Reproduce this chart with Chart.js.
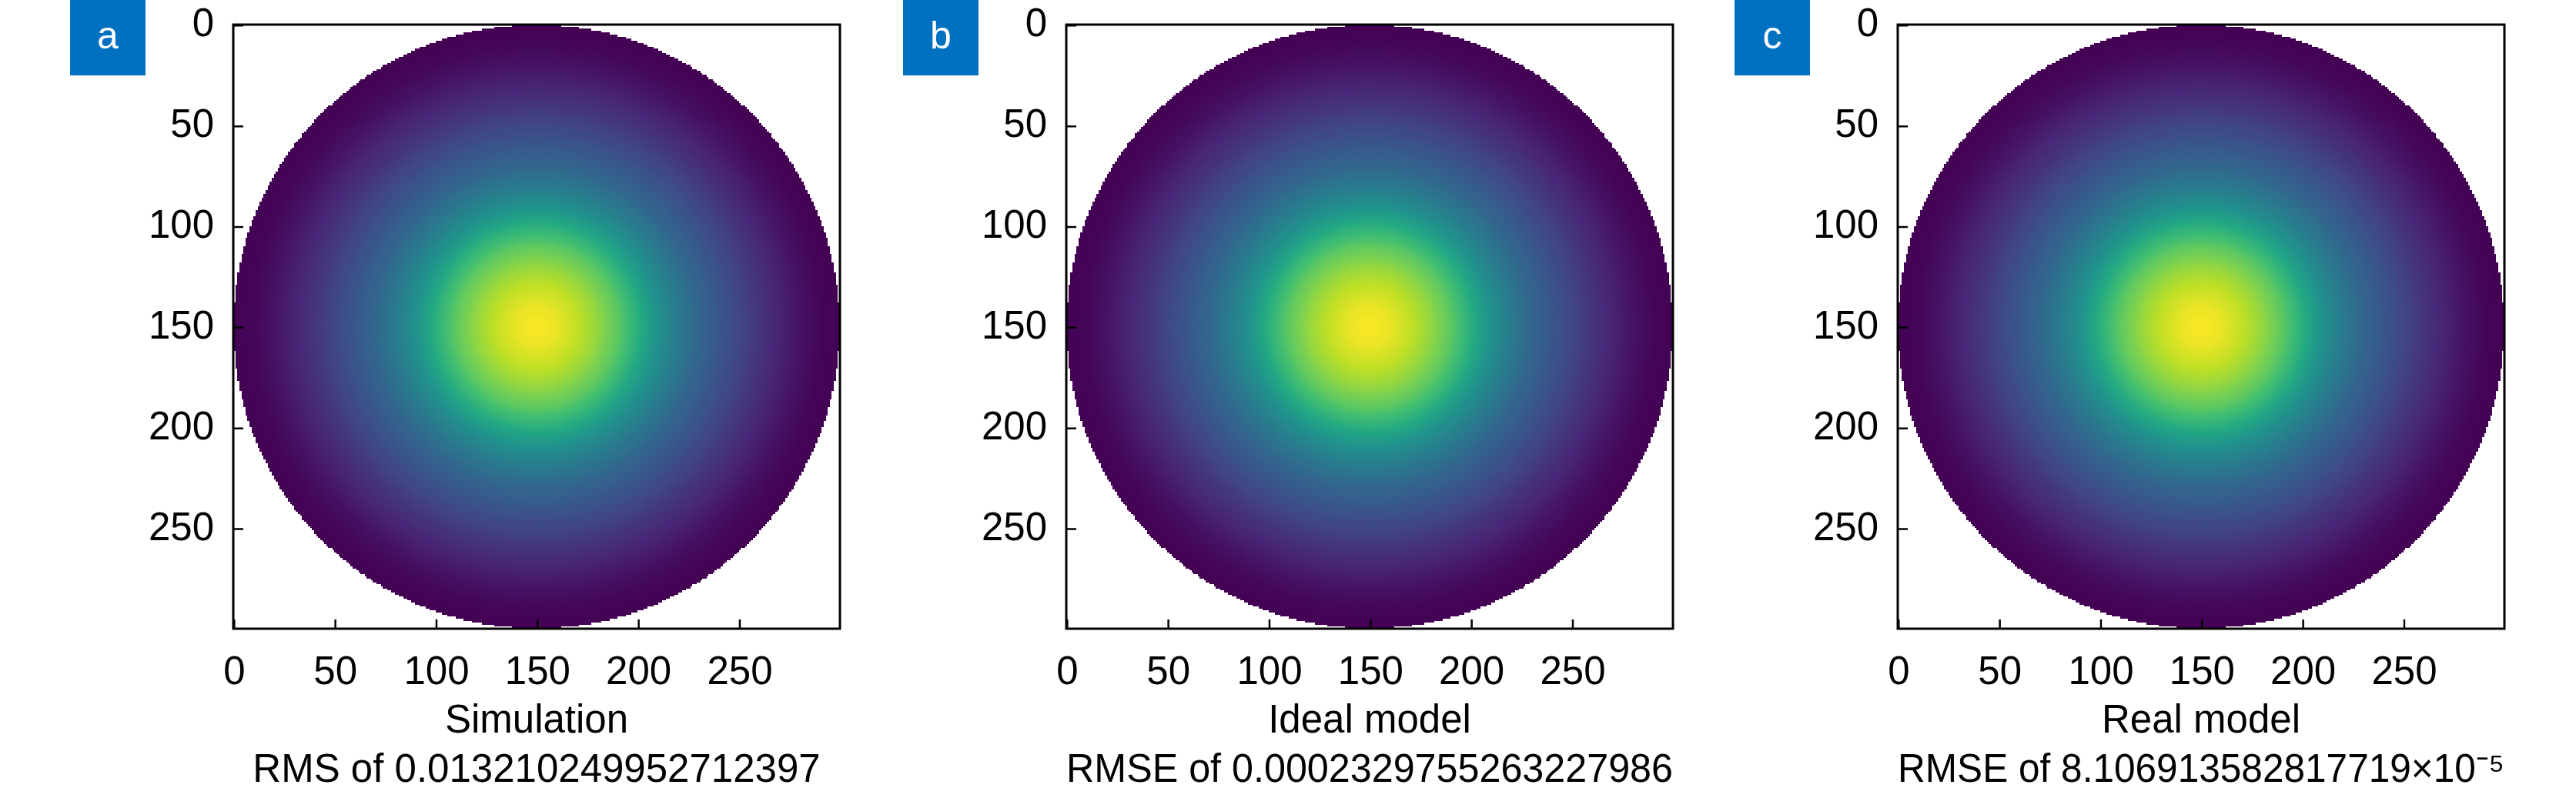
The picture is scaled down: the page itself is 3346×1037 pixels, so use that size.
<!DOCTYPE html>
<html>
<head>
<meta charset="utf-8">
<script src="https://cdn.jsdelivr.net/npm/chart.js@4.4.1/dist/chart.umd.min.js"></script>
<style>
  html, body { margin: 0; padding: 0; background: #fff; width: 3346px; height: 1037px; overflow: hidden; }
  .panel { position: absolute; top: 0; width: 1100px; height: 1037px; }
</style>
</head>
<body>
<div class="panel" style="left:0px"><canvas id="panel0" width="1100" height="1037"></canvas></div>
<div class="panel" style="left:1082px"><canvas id="panel1" width="1100" height="1037"></canvas></div>
<div class="panel" style="left:2162px"><canvas id="panel2" width="1100" height="1037"></canvas></div>
<script>
// map is a 300 x 300 grid, the disc fills it
const gridSize = 300;
const xTicks = [0, 50, 100, 150, 200, 250];
const yTicks = [0, 50, 100, 150, 200, 250];

// colour level (0..1 of the colormap) read along a radius from the centre
const radii            = [0,   10,   20,   30,   40,   50,   60,   70,   80,   90,   100,  110,  120,  130,  140,   150];
const levelsSimulation = [1.0, 0.97, 0.91, 0.84, 0.75, 0.63, 0.50, 0.41, 0.33, 0.27, 0.21, 0.15, 0.10, 0.05, 0.015, 0.0];
const levelsIdeal      = [1.0, 0.97, 0.91, 0.84, 0.75, 0.63, 0.50, 0.41, 0.33, 0.27, 0.21, 0.15, 0.10, 0.05, 0.015, 0.0];
const levelsReal       = [1.0, 0.97, 0.91, 0.84, 0.75, 0.63, 0.50, 0.41, 0.33, 0.27, 0.21, 0.15, 0.10, 0.05, 0.015, 0.0];

const panelLetters = ['a', 'b', 'c'];
const panelTitles = ['Simulation', 'Ideal model', 'Real model'];
const panelErrors = [
  'RMS of 0.013210249952712397',
  'RMSE of 0.0002329755263227986',
  'RMSE of 8.106913582817719\u00d710\u207b\u2075'
];
const panelLevels = [levelsSimulation, levelsIdeal, levelsReal];

// viridis, 11 stops
const viridis = ['#440154', '#482475', '#414487', '#355f8d', '#2a788e', '#21918c',
                 '#22a884', '#44bf70', '#7ad151', '#bddf26', '#fde725'];

const FONT = "'Liberation Sans', Arial, sans-serif";

function hexToRgb(h) {
  return [parseInt(h.slice(1, 3), 16), parseInt(h.slice(3, 5), 16), parseInt(h.slice(5, 7), 16)];
}
const viridisRgb = viridis.map(hexToRgb);

function colourFor(t) {
  t = Math.min(1, Math.max(0, t));
  const pos = t * (viridisRgb.length - 1);
  const k = Math.min(Math.floor(pos), viridisRgb.length - 2);
  const f = pos - k;
  const a = viridisRgb[k], b = viridisRgb[k + 1];
  return 'rgb(' + [0, 1, 2].map(c => Math.round(a[c] + (b[c] - a[c]) * f)).join(',') + ')';
}

function levelAt(levels, r) {
  for (let k = 0; k < radii.length - 1; k++) {
    if (r <= radii[k + 1]) {
      const f = (r - radii[k]) / (radii[k + 1] - radii[k]);
      return levels[k] + (levels[k + 1] - levels[k]) * f;
    }
  }
  return null;
}

function buildCells(levels) {
  const c = (gridSize - 1) / 2;
  const rows = [];
  for (let j = 0; j < gridSize; j++) {
    const row = [];
    for (let i = 0; i < gridSize; i++) {
      const v = levelAt(levels, Math.hypot(i - c, j - c));
      row.push(v === null ? null : colourFor(v));
    }
    rows.push(row);
  }
  return rows;
}

const heatmapPlugin = {
  id: 'heatmap',
  beforeDatasetsDraw(chart, args, opts) {
    const { ctx } = chart;
    const x = chart.scales.x, y = chart.scales.y;
    const xs = [], ys = [];
    for (let i = 0; i <= gridSize; i++) {
      xs.push(Math.round(x.getPixelForValue(i - 0.5)));
      ys.push(Math.round(y.getPixelForValue(i - 0.5)));
    }
    ctx.save();
    opts.cells.forEach((row, j) => {
      row.forEach((col, i) => {
        if (!col) return;
        ctx.fillStyle = col;
        ctx.fillRect(xs[i], ys[j], xs[i + 1] - xs[i], ys[j + 1] - ys[j]);
      });
    });
    ctx.restore();
  },
  afterDatasetsDraw(chart) {
    const { ctx, chartArea: a } = chart;
    const x = chart.scales.x, y = chart.scales.y;
    ctx.save();
    ctx.strokeStyle = '#000';
    ctx.lineWidth = 3;
    ctx.strokeRect(a.left, a.top, a.right - a.left, a.bottom - a.top);
    ctx.lineWidth = 2.5;
    ctx.beginPath();
    xTicks.forEach(v => {
      const px = x.getPixelForValue(v);
      ctx.moveTo(px, a.bottom);
      ctx.lineTo(px, a.bottom - 12);
    });
    yTicks.forEach(v => {
      const py = y.getPixelForValue(v);
      ctx.moveTo(a.left, py);
      ctx.lineTo(a.left + 13, py);
    });
    ctx.stroke();
    ctx.restore();
  },
  afterDraw(chart, args, opts) {
    const { ctx } = chart;
    ctx.save();
    ctx.fillStyle = '#0070c0';
    ctx.fillRect(91, 0, 98, 98);
    ctx.fillStyle = '#fff';
    ctx.font = '50px ' + FONT;
    ctx.textAlign = 'center';
    ctx.textBaseline = 'alphabetic';
    ctx.fillText(opts.letter, 140, 63);
    ctx.restore();
  }
};

panelLetters.forEach((letter, p) => {
  const ctx = document.getElementById('panel' + p).getContext('2d');
  new Chart(ctx, {
    type: 'scatter',
    data: { datasets: [] },
    plugins: [heatmapPlugin],
    options: {
      responsive: false,
      devicePixelRatio: 1,
      animation: false,
      layout: { padding: { top: 32, right: 9, left: 0, bottom: 0 } },
      plugins: {
        legend: { display: false },
        tooltip: { enabled: false },
        heatmap: { cells: buildCells(panelLevels[p]), letter: letter }
      },
      scales: {
        x: {
          type: 'linear',
          min: -0.5,
          max: gridSize - 0.5,
          afterBuildTicks: scale => { scale.ticks = xTicks.map(v => ({ value: v })); },
          afterFit: scale => { scale.height = 220; scale.paddingLeft = 0; scale.paddingRight = 0; },
          grid: { display: false, drawTicks: false },
          border: { display: false },
          ticks: { color: '#000', font: { family: FONT, size: 51 }, padding: 27, maxRotation: 0, autoSkip: false },
          title: {
            display: true,
            text: [panelTitles[p], panelErrors[p]],
            color: '#000',
            font: { family: FONT, size: 51, lineHeight: 64 / 51 },
            padding: { top: 0, bottom: 3 }
          }
        },
        y: {
          type: 'linear',
          reverse: true,
          min: -0.5,
          max: gridSize - 0.5,
          afterBuildTicks: scale => { scale.ticks = yTicks.map(v => ({ value: v })); },
          afterFit: scale => { scale.width = 303; scale.paddingTop = 0; scale.paddingBottom = 0; },
          grid: { display: false, drawTicks: false },
          border: { display: false },
          ticks: { color: '#000', font: { family: FONT, size: 51 }, padding: 25, autoSkip: false }
        }
      }
    }
  });
});
</script>
</body>
</html>
